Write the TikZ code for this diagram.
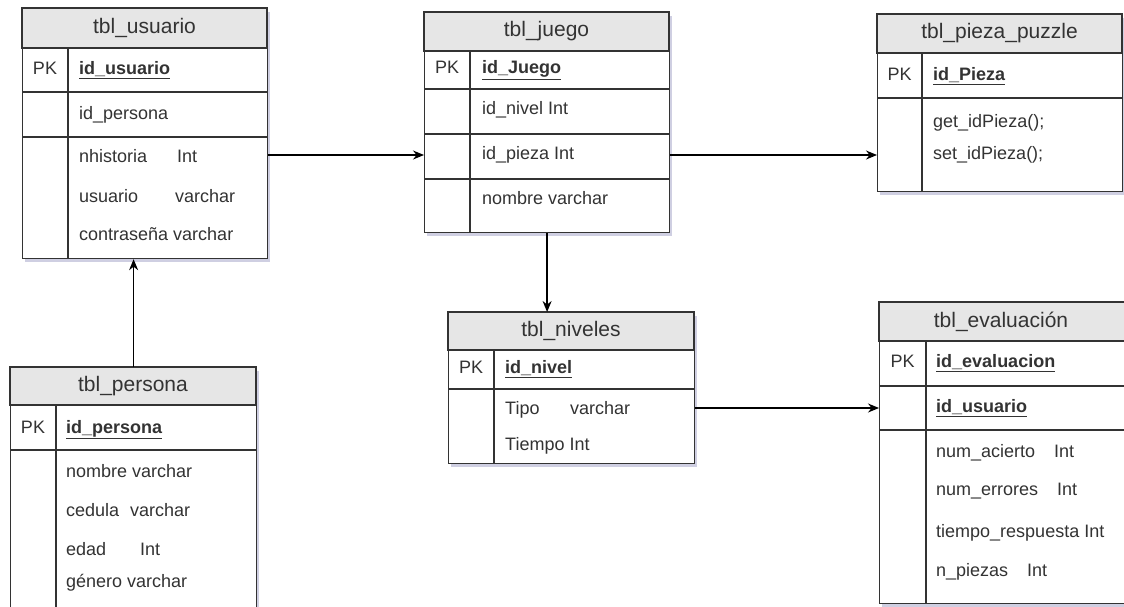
\documentclass[tikz,border=0pt]{standalone}
\usepackage{fontspec}
\setmainfont{Liberation Sans}
\usetikzlibrary{arrows.meta,positioning,shadows}
\definecolor{linea}{HTML}{333333}
\definecolor{cabez}{HTML}{E6E6E6}
\tikzset{
  tabla/.style={draw=linea,line width=1.2pt,fill=white,anchor=north west,inner sep=0pt,
    drop shadow={shadow xshift=2pt,shadow yshift=-3pt,opacity=0.3,fill=blue!25!gray}},
  cab/.style={draw=linea,line width=1.2pt,fill=cabez},
  sep/.style={draw=linea,line width=1.2pt},
  titulo/.style={font=\fontsize{21}{24}\selectfont,text=linea,inner sep=0pt},
  campo/.style={anchor=west,font=\fontsize{18}{20}\selectfont,text=linea,inner sep=0pt,
    text height=13pt,text depth=4pt},
  pk/.style={font=\fontsize{18}{20}\selectfont,text=linea,inner sep=0pt,
    text height=13pt,text depth=4pt},
  flecha/.style={-{Stealth[length=11pt,width=9pt]},line width=1.3pt,draw=black},
}
\newcommand{\llave}[1]{\underline{\textbf{#1}}}

\begin{document}
\begin{tikzpicture}[x=1pt,y=-1pt]
  \useasboundingbox (0,0) rectangle (1124,606);

  % tbl_usuario
  \node[tabla,minimum width=245pt,minimum height=250pt] (usuario) at (22,8) {};
  \draw[cab] (22,8) rectangle (267,48);
  \node[titulo] (tusuario) at (144.5,28) {tbl\_usuario};
  \draw[sep] (22,92) -- (267,92);
  \draw[sep] (22,137) -- (267,137);
  \draw[sep] (68,48) -- (68,258);
  \node[pk] at (45,70) {PK};
  \node[campo] (uid) at (79,70) {\llave{id\_usuario}};
  \node[campo] (upersona) at (79,115) {id\_persona};
  \node[campo] at (79,158) {\makebox[98pt][l]{nhistoria}Int};
  \node[campo] at (79,198) {\makebox[96pt][l]{usuario}varchar};
  \node[campo] at (79,236) {contraseña varchar};

  % tbl_juego
  \node[tabla,minimum width=245pt,minimum height=220pt] (juego) at (424,12) {};
  \draw[cab] (424,12) rectangle (669,51);
  \node[titulo] (tjuego) at (546.5,31.5) {tbl\_juego};
  \draw[sep] (424,89) -- (669,89);
  \draw[sep] (424,134) -- (669,134);
  \draw[sep] (424,179) -- (669,179);
  \draw[sep] (470,51) -- (470,232);
  \node[pk] at (447,69) {PK};
  \node[campo] (jid) at (482,69) {\llave{id\_Juego}};
  \node[campo] (jnivel) at (482,110) {id\_nivel Int};
  \node[campo] (jpieza) at (482,155) {id\_pieza Int};
  \node[campo] (jnombre) at (482,200) {nombre varchar};

  % tbl_pieza_puzzle
  \node[tabla,minimum width=245pt,minimum height=177pt] (pieza) at (877,14) {};
  \draw[cab] (877,14) rectangle (1122,53);
  \node[titulo] (tpieza) at (999.5,33.5) {tbl\_pieza\_puzzle};
  \draw[sep] (877,98) -- (1122,98);
  \draw[sep] (922,53) -- (922,191);
  \node[pk] at (899.5,76) {PK};
  \node[campo] (pid) at (933,76) {\llave{id\_Pieza}};
  \node[campo] (pget) at (933,123) {get\_idPieza();};
  \node[campo] (pset) at (933,155) {set\_idPieza();};

  % tbl_persona
  \node[tabla,minimum width=246pt,minimum height=253pt] (persona) at (10,367) {};
  \draw[cab] (10,367) rectangle (256,405);
  \node[titulo] (tpersona) at (133,386) {tbl\_persona};
  \draw[sep] (10,450) -- (256,450);
  \draw[sep] (56,405) -- (56,620);
  \node[pk] at (33,429) {PK};
  \node[campo] (peid) at (66,429) {\llave{id\_persona}};
  \node[campo] at (66,473) {nombre varchar};
  \node[campo] at (66,512) {\makebox[64pt][l]{cedula}varchar};
  \node[campo] at (66,551) {\makebox[74pt][l]{edad}Int};
  \node[campo] at (66,583) {género varchar};

  % tbl_niveles
  \node[tabla,minimum width=246pt,minimum height=151pt] (niveles) at (448,312) {};
  \draw[cab] (448,312) rectangle (694,350);
  \node[titulo] (tniveles) at (571,331) {tbl\_niveles};
  \draw[sep] (448,389) -- (694,389);
  \draw[sep] (494,350) -- (494,463);
  \node[pk] at (471,369) {PK};
  \node[campo] (nid) at (505,369) {\llave{id\_nivel}};
  \node[campo] (ntipo) at (505,410) {\makebox[65pt][l]{Tipo}varchar};
  \node[campo] (ntiempo) at (505,446) {Tiempo Int};

  % tbl_evaluación
  \node[tabla,minimum width=247pt,minimum height=301pt] (evaluacion) at (879,302) {};
  \draw[cab] (879,302) rectangle (1126,341);
  \node[titulo] (tevaluacion) at (1001,321.5) {tbl\_evaluación};
  \draw[sep] (879,386) -- (1126,386);
  \draw[sep] (879,430) -- (1126,430);
  \draw[sep] (926,341) -- (926,603);
  \node[pk] at (902.5,363) {PK};
  \node[campo] (eid) at (936,363) {\llave{id\_evaluacion}};
  \node[campo] (eusuario) at (936,408) {\llave{id\_usuario}};
  \node[campo] at (936,453) {\makebox[118pt][l]{num\_acierto}Int};
  \node[campo] at (936,491) {\makebox[121pt][l]{num\_errores}Int};
  \node[campo] at (936,533) {tiempo\_respuesta Int};
  \node[campo] at (936,572) {\makebox[91pt][l]{n\_piezas}Int};

  % relaciones
  \draw[flecha] (usuario.east |- jpieza) -- (juego.west |- jpieza);
  \draw[flecha] (juego.east |- jpieza) -- (pieza.west |- jpieza);
  \draw[flecha] (persona.north) -- (persona.north |- usuario.south);
  \draw[flecha] (juego.south) -- (juego.south |- niveles.north);
  \draw[flecha] (niveles.east |- eusuario) -- (evaluacion.west |- eusuario);
\end{tikzpicture}
\end{document}
